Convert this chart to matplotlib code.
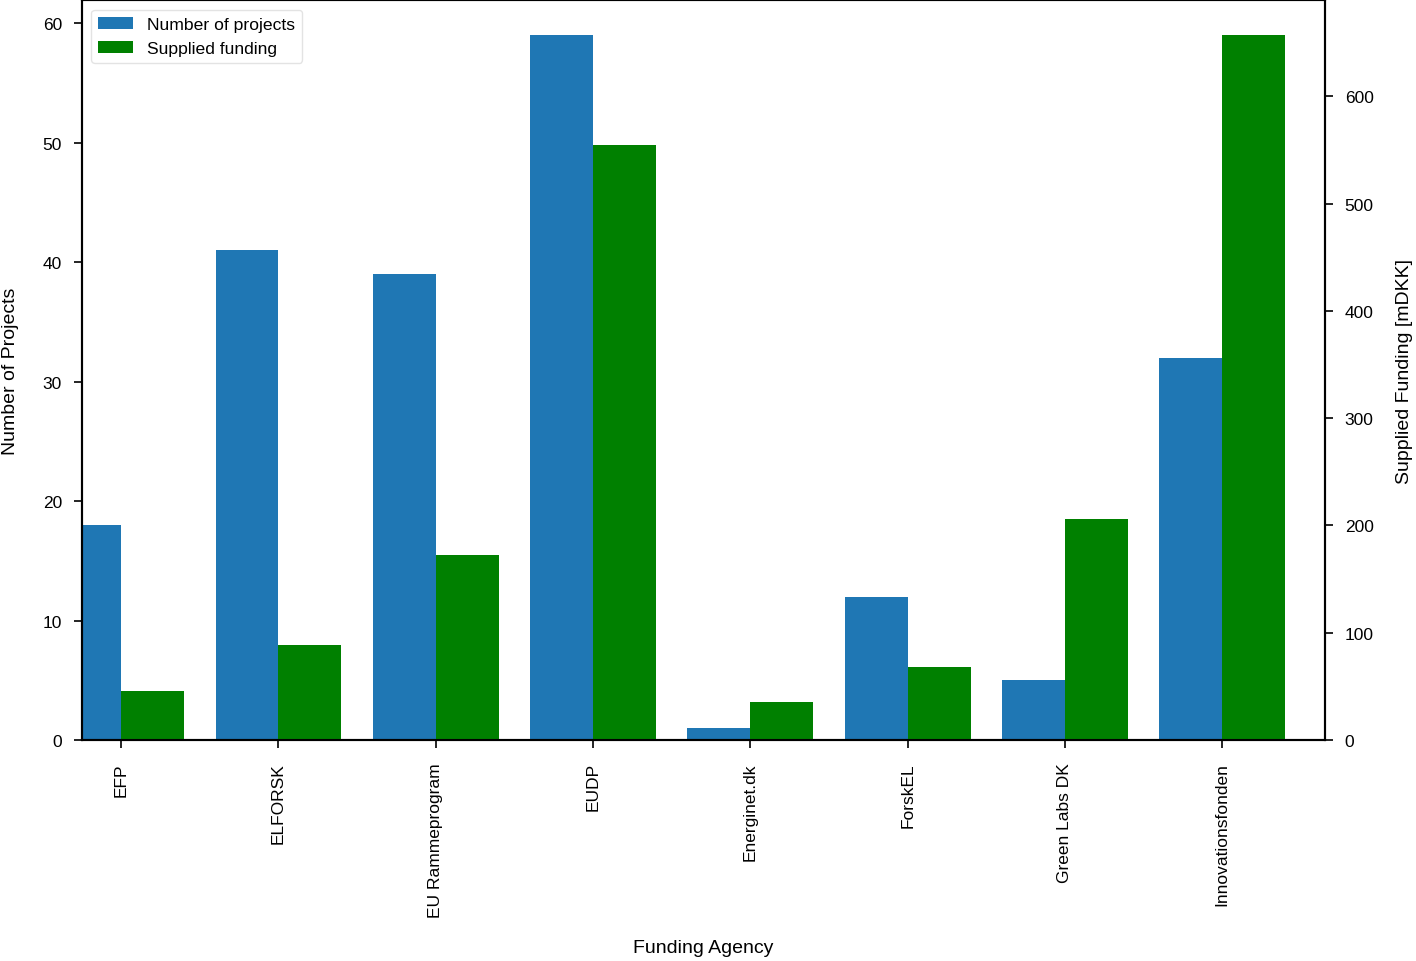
import matplotlib
matplotlib.use("Agg")
import matplotlib.pyplot as plt
import numpy as np

agencies = ["EFP", "ELFORSK", "EU Rammeprogram", "EUDP", "Energinet.dk",
            "ForskEL", "Green Labs DK", "Innovationsfonden"]
num_projects = [18, 41, 39, 59, 1, 12, 5, 32]
funding_mdkk = [45.7, 88.6, 172.6, 554.3, 35.5, 68.1, 206.2, 656.9]

plt.rcParams['font.family'] = ['Liberation Sans', 'DejaVu Sans']

L, R, T, B = 81.5, 1324.5, 1, 741
fig = plt.figure(figsize=(14.16, 9.62), dpi=100)
ax = fig.add_axes([L/1416, 1-B/962, (R-L)/1416, (B-T)/962])
ax2 = ax.twinx()

x = np.arange(len(agencies))
w = 0.4
b1 = ax.bar(x - w/2, num_projects, w, color="#1f77b4", label="Number of projects")
b2 = ax2.bar(x + w/2, funding_mdkk, w, color="green", label="Supplied funding")

ax.set_xlim(-0.252, 7.65)
ax.set_ylim(0, max(num_projects) * 1.05)
ax2.set_ylim(0, max(funding_mdkk) * 1.05)
ax.set_xticks(x)
ax.set_xticklabels(agencies, rotation=90)
ax.set_yticks([0, 10, 20, 30, 40, 50, 60])
ax2.set_yticks([0, 100, 200, 300, 400, 500, 600])
for a in (ax, ax2):
    a.tick_params(axis='both', labelsize=12.5, length=5.5, width=1.2, direction='out')
    for s in a.spines.values():
        s.set_linewidth(1.5)
ax.tick_params(axis='x', pad=10.5)
ax.tick_params(axis='y', pad=8.5)
ax2.tick_params(axis='y', pad=9)

ax.set_ylabel("Number of Projects", fontsize=14)
ax2.set_ylabel("Supplied Funding [mDKK]", fontsize=14)
ax.set_xlabel("Funding Agency", fontsize=14)
ax.yaxis.set_label_coords((19 - L) / (R - L), 0.5)
ax2.yaxis.set_label_coords((1396 - L) / (R - L), 0.5)
ax.xaxis.set_label_coords(0.5, (B - 940) / (B - T))

leg = ax.legend([b1, b2], ["Number of projects", "Supplied funding"],
                loc="upper left", fontsize=12.6, frameon=True,
                bbox_to_anchor=(0.0, 1.0), borderaxespad=0.55,
                handlelength=2.0)
leg.get_frame().set_edgecolor("#dddddd")

fig.savefig("out.png", dpi=100)
